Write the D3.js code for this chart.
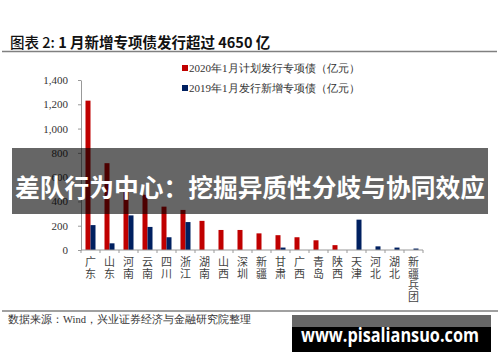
<!DOCTYPE html>
<html><head><meta charset="utf-8">
<script src="https://cdn.jsdelivr.net/npm/d3@7/dist/d3.min.js"></script>
<style>body{margin:0;background:#fff}svg{display:block}</style>
</head><body>
<svg id="c" width="500" height="362"></svg>
<script>
const categories = ["广东","山东","河南","云南","四川","浙江","湖南","山西","深圳","新疆","甘肃","广西","青岛","陕西","天津","河北","湖北","新疆兵团"];
const plan2020 = [1230,715,490,455,357,330,240,165,165,137,122,105,80,40,0,0,0,0];
const issued2019 = [205,55,285,190,105,230,0,0,0,0,20,0,0,0,250,30,20,12];
const yTicks = [0,200,400,600,800,1000,1200,1400];
const seriesNames = ["2020年1月计划发行专项债（亿元）","2019年1月发行新增专项债（亿元）"];
const colors = ["#C00000","#002060"];

const svg = d3.select("#c");
const serif = "'Liberation Serif','DejaVu Serif',serif";
const cjk = "'Noto Sans CJK SC','Noto Sans',sans-serif";

// title
svg.append("text").attr("x",10).attr("y",48).attr("font-family",cjk).attr("font-size",14.5).attr("fill","#111")
  .call(t=>{t.append("tspan").attr("font-weight",500).text("图表 2:  ");
            t.append("tspan").attr("font-weight",700).text("1 月新增专项债发行超过 4650 亿");});
svg.append("line").attr("x1",2).attr("x2",497).attr("y1",51.5).attr("y2",51.5).attr("stroke","#808080").attr("stroke-width",1.5);

const x = d3.scaleBand().domain(categories).range([81,423]);
const y = d3.scaleLinear().domain([0,1400]).range([250,80]);
const bw = 5;

// y axis
const ya = svg.append("g").attr("transform","translate(81,0)")
  .call(d3.axisLeft(y).tickValues(yTicks).tickFormat(d3.format(",")).tickSize(3).tickPadding(10).tickSizeOuter(0));
ya.select(".domain").attr("stroke","#999");
ya.selectAll(".tick line").attr("stroke","#999");
ya.selectAll(".tick text").attr("font-family",serif).attr("font-size",11).attr("fill","#333");

// bars
const g = svg.append("g");
g.selectAll("rect.r").data(categories).join("rect").attr("class","r")
  .attr("x",d=>x(d)+x.bandwidth()/2-bw).attr("width",bw)
  .attr("y",(d,i)=>y(plan2020[i])).attr("height",(d,i)=>y(0)-y(plan2020[i])).attr("fill",colors[0]);
g.selectAll("rect.b").data(categories).join("rect").attr("class","b")
  .attr("x",d=>x(d)+x.bandwidth()/2).attr("width",bw)
  .attr("y",(d,i)=>y(issued2019[i])).attr("height",(d,i)=>y(0)-y(issued2019[i])).attr("fill",colors[1]);

// x axis
const xa = svg.append("g").attr("transform","translate(0,250)");
xa.append("line").attr("x1",81).attr("x2",423).attr("stroke","#999");
xa.selectAll("line.t").data(categories.concat(["_end"])).join("line").attr("class","t")
  .attr("x1",(d,i)=>x.range()[0]+i*x.step()).attr("x2",(d,i)=>x.range()[0]+i*x.step())
  .attr("y1",0).attr("y2",3).attr("stroke","#999");
xa.selectAll("text").data(categories).join("text")
  .attr("font-family",cjk).attr("font-size",11).attr("fill","#444").attr("text-anchor","middle")
  .each(function(d){
    const t=d3.select(this);
    Array.from(d).forEach((ch,k)=>t.append("tspan").attr("x",x(d)+x.bandwidth()/2).attr("y",16+k*11.5).text(ch));
  });

// legend
const lg = svg.append("g");
seriesNames.forEach((s,i)=>{
  const yy = 68 + i*20;
  lg.append("rect").attr("x",182).attr("y",yy-3).attr("width",6).attr("height",6).attr("fill",colors[i]);
  lg.append("text").attr("x",189).attr("y",yy+4).attr("font-family",serif).attr("font-size",11).attr("fill","#333").text(s);
});

// footer
svg.append("line").attr("x1",2).attr("x2",498).attr("y1",311).attr("y2",311).attr("stroke","#808080").attr("stroke-width",1.5);
svg.append("text").attr("x",8).attr("y",323).attr("font-family",serif).attr("font-size",10.5).attr("fill","#333")
  .text("数据来源：Wind，兴业证券经济与金融研究院整理");

// overlay banner
svg.append("rect").attr("x",12).attr("y",148).attr("width",476).attr("height",66).attr("fill","#000").attr("opacity",0.6);
svg.append("text").attr("x",250).attr("y",186).attr("dominant-baseline","central").attr("text-anchor","middle")
  .attr("font-family",cjk).attr("font-weight",700).attr("font-size",25).attr("fill","#fff")
  .attr("textLength",470).attr("lengthAdjust","spacingAndGlyphs")
  .text("差队行为中心：挖掘异质性分歧与协同效应");

// watermark box
svg.append("rect").attr("x",292).attr("y",315).attr("width",199).attr("height",12).attr("fill","#666");
svg.append("rect").attr("x",292).attr("y",327).attr("width",199).attr("height",25).attr("fill","#000");
svg.append("text").attr("x",301).attr("y",342).attr("font-family","'Open Sans','Noto Sans',sans-serif").attr("font-weight",700)
  .attr("font-size",19).attr("fill","#fff").attr("textLength",178).attr("lengthAdjust","spacingAndGlyphs")
  .text("www.pisaliansuo.com");
</script>
</body></html>
